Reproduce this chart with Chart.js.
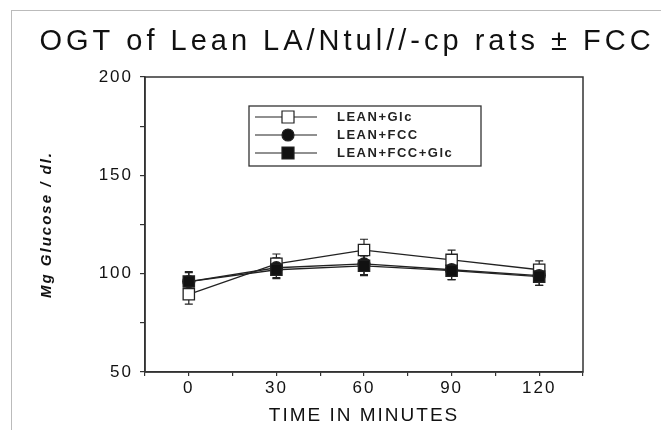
<!DOCTYPE html>
<html>
<head>
<meta charset="utf-8">
<script src="https://cdn.jsdelivr.net/npm/chart.js@4.4.1/dist/chart.umd.min.js"></script>
<style>
  body { margin: 0; background: #fff; }
  #wrap { position: relative; width: 661px; height: 430px; }
  #marco { position: absolute; left: 11px; top: 10px; right: 0; bottom: 0;
           border-top: 1px solid #bbb; border-left: 1px solid #bbb; pointer-events: none; }
  canvas { position: absolute; left: 0; top: 0; }
</style>
</head>
<body>
<div id="wrap">
  <div id="marco"></div>
  <canvas id="ogtChart" width="661" height="430"></canvas>
</div>
<script>
// datos
const minutos = [0, 30, 60, 90, 120];
const etiquetas = ['LEAN+Glc', 'LEAN+FCC', 'LEAN+FCC+Glc'];
const leanGlc = [89.5, 105, 112, 107, 102];
const leanFcc = [96, 103, 105, 102, 99];
const leanFccGlc = [96, 102, 104, 101.5, 98.5];
const errGlc = [5, 5, 5.5, 5, 4.5];
const errFcc = [5, 5, 5.5, 5, 5];
const errFccGlc = [4.5, 4.5, 5, 4.5, 4.5];

const yTicks = [50, 100, 150, 200];
const xTicks = [0, 30, 60, 90, 120];
const titulo = 'OGT of Lean LA/Ntul//-cp rats ± FCC';

const fuente = "'Liberation Sans', Arial, sans-serif";

function puntos(valores) {
    return minutos.map((m, i) => ({ x: m, y: valores[i] }));
}

// espaciado de letras como en el original
const espaciado = {
    id: 'espaciado',
    beforeDraw(chart) {
        chart.ctx.letterSpacing = '2px';
    }
};

// titulo con letras separadas
const tituloGrande = {
    id: 'tituloGrande',
    afterDraw(chart) {
        const ctx = chart.ctx;
        ctx.save();
        ctx.font = '29px ' + fuente;
        ctx.letterSpacing = '4px';
        ctx.fillStyle = '#111';
        ctx.textAlign = 'left';
        ctx.textBaseline = 'alphabetic';
        const w = ctx.measureText(titulo).width;
        ctx.fillText(titulo, 345 - w / 2 + 2, 50);
        ctx.restore();
    }
};

// marco completo del area de grafico
const marcoPlot = {
    id: 'marcoPlot',
    afterDatasetsDraw(chart) {
        const a = chart.chartArea;
        const ctx = chart.ctx;
        ctx.save();
        ctx.strokeStyle = '#333';
        ctx.lineWidth = 1.5;
        ctx.strokeRect(a.left, a.top, a.right - a.left, a.bottom - a.top);
        ctx.restore();
    }
};

// barras de error
const barrasError = {
    id: 'barrasError',
    beforeDatasetsDraw(chart) {
        const ctx = chart.ctx;
        const xs = chart.scales.x, ys = chart.scales.y;
        ctx.save();
        ctx.strokeStyle = '#222';
        ctx.lineWidth = 1.2;
        chart.data.datasets.forEach(ds => {
            ds.data.forEach((p, i) => {
                const e = ds.errores[i];
                const px = xs.getPixelForValue(p.x);
                const y1 = ys.getPixelForValue(p.y + e);
                const y2 = ys.getPixelForValue(p.y - e);
                ctx.beginPath();
                ctx.moveTo(px, y1); ctx.lineTo(px, y2);
                ctx.moveTo(px - 4, y1); ctx.lineTo(px + 4, y1);
                ctx.moveTo(px - 4, y2); ctx.lineTo(px + 4, y2);
                ctx.stroke();
            });
        });
        ctx.restore();
    }
};

// leyenda dentro del grafico
const leyenda = {
    id: 'leyenda',
    afterDraw(chart) {
        const ctx = chart.ctx;
        const a = chart.chartArea;
        const bx = a.left + 104, by = a.top + 29, bw = 232, bh = 60;
        ctx.save();
        ctx.fillStyle = '#fff';
        ctx.fillRect(bx, by, bw, bh);
        ctx.strokeStyle = '#333';
        ctx.lineWidth = 1.3;
        ctx.strokeRect(bx, by, bw, bh);
        ctx.font = 'bold 13px ' + fuente;
        ctx.letterSpacing = '1.5px';
        ctx.textBaseline = 'middle';
        chart.data.datasets.forEach((ds, i) => {
            const y = by + 11 + i * 18;
            ctx.strokeStyle = '#222';
            ctx.lineWidth = 1.2;
            ctx.beginPath();
            ctx.moveTo(bx + 6, y); ctx.lineTo(bx + 68, y);
            ctx.stroke();
            ctx.fillStyle = ds.backgroundColor;
            ctx.beginPath();
            if (ds.pointStyle === 'circle') {
                ctx.arc(bx + 39, y, ds.legendRadius, 0, Math.PI * 2);
            } else {
                const s = ds.legendRadius;
                ctx.rect(bx + 39 - s, y - s, 2 * s, 2 * s);
            }
            ctx.fill();
            ctx.stroke();
            ctx.fillStyle = '#222';
            ctx.fillText(ds.label, bx + 88, y);
        });
        ctx.restore();
    }
};

new Chart('ogtChart', {
    type: 'line',
    data: {
        datasets: [{
            label: etiquetas[0],
            data: puntos(leanGlc),
            errores: errGlc,
            borderColor: '#222',
            backgroundColor: '#fff',
            pointStyle: 'rect',
            pointRadius: 8,
            legendRadius: 6,
            pointBorderWidth: 1.3,
            borderWidth: 1.3,
            order: 3
        }, {
            label: etiquetas[1],
            data: puntos(leanFcc),
            errores: errFcc,
            borderColor: '#222',
            backgroundColor: '#111',
            pointStyle: 'circle',
            pointRadius: 6,
            legendRadius: 6,
            borderWidth: 1.3,
            order: 2
        }, {
            label: etiquetas[2],
            data: puntos(leanFccGlc),
            errores: errFccGlc,
            borderColor: '#222',
            backgroundColor: '#111',
            pointStyle: 'rect',
            pointRadius: 8,
            legendRadius: 6,
            borderWidth: 1.3,
            order: 1
        }]
    },
    options: {
        responsive: false,
        animation: false,
        layout: { padding: { left: 30, top: 77, right: 78, bottom: 0 } },
        plugins: {
            legend: { display: false },
            tooltip: { enabled: false },
            title: { display: false }
        },
        scales: {
            x: {
                type: 'linear',
                min: -15, max: 135,
                afterBuildTicks(scale) {
                    scale.ticks = [-15, 0, 15, 30, 45, 60, 75, 90, 105, 120, 135].map(v => ({ value: v }));
                },
                afterFit(scale) { scale.height = 58; },
                grid: { drawOnChartArea: false, tickLength: 4, color: '#333', lineWidth: 1.2 },
                border: { color: '#333', width: 1.5 },
                ticks: {
                    color: '#111',
                    padding: 2,
                    maxRotation: 0,
                    autoSkip: false,
                    font: { family: fuente, size: 17 },
                    callback: v => xTicks.includes(v) ? String(v) : ''
                },
                title: {
                    display: true,
                    text: 'TIME IN MINUTES',
                    color: '#111',
                    font: { family: fuente, size: 19 },
                    padding: { top: 0, bottom: 3 }
                }
            },
            y: {
                min: 50, max: 200,
                afterBuildTicks(scale) {
                    scale.ticks = [50, 75, 100, 125, 150, 175, 200].map(v => ({ value: v }));
                },
                afterFit(scale) { scale.width = 115; },
                grid: { drawOnChartArea: false, tickLength: 5, color: '#333', lineWidth: 1.2 },
                border: { color: '#333', width: 1.5 },
                ticks: {
                    color: '#111',
                    padding: 7,
                    autoSkip: false,
                    font: { family: fuente, size: 17 },
                    callback: v => yTicks.includes(v) ? String(v) : ''
                },
                title: {
                    display: true,
                    text: 'Mg Glucose / dl.',
                    color: '#111',
                    font: { family: "'Liberation Sans Narrow', 'Liberation Sans', sans-serif", size: 15, style: 'italic', weight: 'bold' },
                    padding: { top: 8, bottom: 0 }
                }
            }
        }
    },
    plugins: [espaciado, barrasError, marcoPlot, leyenda, tituloGrande]
});
</script>
</body>
</html>
